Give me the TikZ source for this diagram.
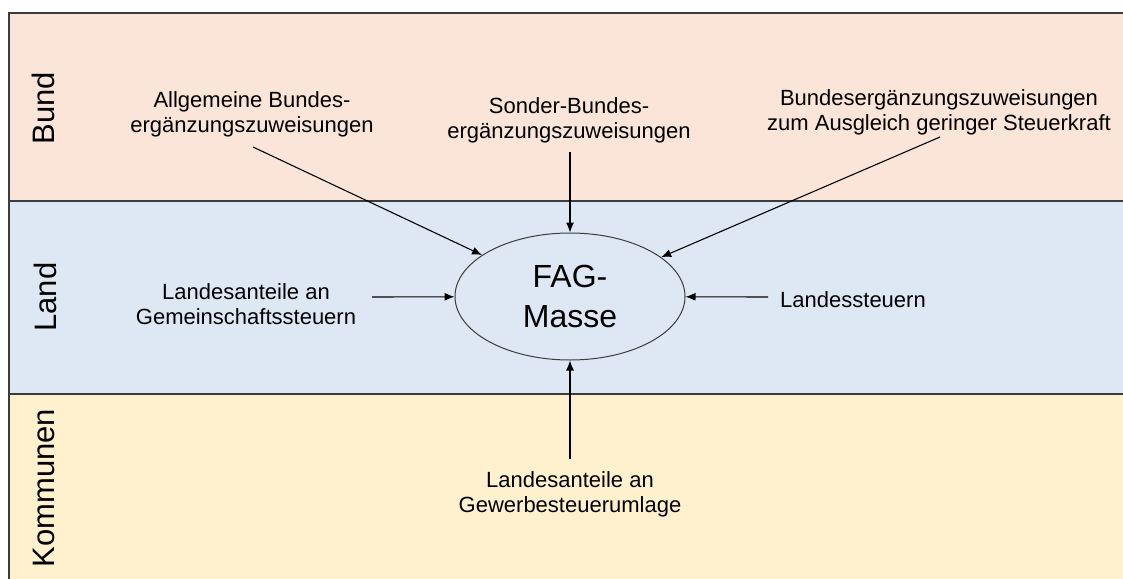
\documentclass[tikz,border=0pt]{standalone}
\usepackage{fontspec}
\setmainfont{Liberation Sans}
\usetikzlibrary{shapes.geometric,arrows.meta}

\definecolor{bundfill}{HTML}{FAE5D8}
\definecolor{landfill}{HTML}{DDE8F4}
\definecolor{kommfill}{HTML}{FFF0CE}
\definecolor{rand}{HTML}{3C3C3C}

\tikzset{
  ebene/.style={draw=rand, line width=1.3pt},
  ebenenname/.style={rotate=90, inner sep=0pt, font=\fontsize{31}{31}\selectfont},
  posten/.style={align=center, font=\fontsize{22}{25}\selectfont},
  masse/.style={draw=rand, line width=1pt, fill=landfill, shape=ellipse,
    minimum width=230pt, minimum height=127pt, inner sep=0pt, align=center,
    font=\fontsize{32}{40}\selectfont},
}

\begin{document}
\begin{tikzpicture}[x=1pt, y=-1pt, >={Latex[length=10pt,width=8pt]}, line width=1.1pt]
    \clip (0,0) rectangle (1123,578);

    \draw[ebene, fill=bundfill] (9,13) rectangle (1140,201);
    \draw[ebene, fill=landfill] (9,201) rectangle (1140,394);
    \draw[ebene, fill=kommfill] (9,394) rectangle (1140,600);

    \node[ebenenname] (bund) at (43,108) {Bund};
    \node[ebenenname] (land) at (45,297) {Land};
    \node[ebenenname] (kommunen) at (44,488) {Kommunen};

    \node[masse] (fag) at (570,296.5) {FAG-\\Masse};

    \node[posten] (allg) at (252,114) {Allgemeine Bundes-\\ergänzungszuweisungen};
    \node[posten] (sonder) at (569,120) {Sonder-Bundes-\\ergänzungszuweisungen};
    \node[posten] (bez) at (939,112) {Bundesergänzungszuweisungen\\zum Ausgleich geringer Steuerkraft};
    \node[posten] (gemein) at (246,304) {Landesanteile an\\Gemeinschaftssteuern};
    \node[posten] (lsteuern) at (853,300) {Landessteuern};
    \node[posten] (gewerbe) at (570,494) {Landesanteile an\\Gewerbesteuerumlage};

    \coordinate (allgT) at (253,147);
    \coordinate (sonderT) at (570,152);
    \coordinate (bezT) at (940,137);
    \coordinate (gemeinT) at (372,297);
    \coordinate (lsteuernT) at (768,297);
    \coordinate (gewerbeT) at (570,459);

    \draw [->] (allgT) -- (fag);
    \draw [->] (sonderT) -- (fag);
    \draw [->] (bezT) -- (fag);
    \draw [->] (gemeinT) -- (fag);
    \draw [->] (lsteuernT) -- (fag);
    \draw [->] (gewerbeT) -- (fag);
\end{tikzpicture}
\end{document}
